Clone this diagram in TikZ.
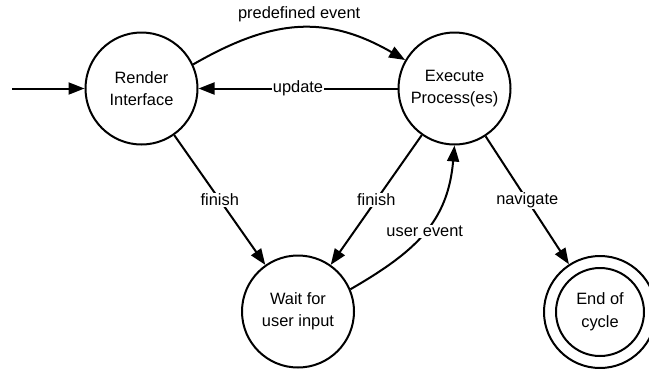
\documentclass[tikz,border=0pt]{standalone}
\usepackage{fontspec}
\setmainfont{Liberation Sans}
\usetikzlibrary{arrows.meta}
\begin{document}
\begin{tikzpicture}[x=1pt,y=-1pt,
  every node/.style={font=\fontsize{16.4}{22.5}\selectfont},
  state/.style={circle, draw, line width=2pt, minimum size=112pt, inner sep=0pt, align=center},
  link/.style={line width=2pt, -{Triangle[length=16pt,width=12pt]}},
  tag/.style={fill=white, inner sep=1pt}
]
\useasboundingbox (0,0) rectangle (649,368);

% states
\node[state] (R) at (141.5,88.5) {Render\\Interface};
\node[state] (E) at (454.5,88.5) {Execute\\Process(es)};
\node[state] (W) at (298,311.5) {Wait for\\user input};
\node[state] (C) at (600,312) {};
\draw[line width=2pt] (C.center) circle[radius=44];
\node[align=center] at (C.center) {End of\\cycle};

% entry point
\coordinate (in) at (12,88.5);
\draw[link] (in) -- (R);

% transitions
\draw[link] (R.25) to[out=30,in=150,looseness=1.1]
  node[midway, above=4pt, inner sep=1pt] {predefined event} (E.150);
\draw[link] (E) -- node[tag] {update} (R);
\draw[link] (R) -- node[tag] {finish} (W);
\draw[link] (E) -- node[tag] {finish} (W);
\draw[link] (E) -- node[tag] {navigate} (C);
\draw[link] (W.23) to[out=30,in=-95,looseness=1.1]
  node[tag, pos=0.5] {user event} (E.south);
\end{tikzpicture}
\end{document}
